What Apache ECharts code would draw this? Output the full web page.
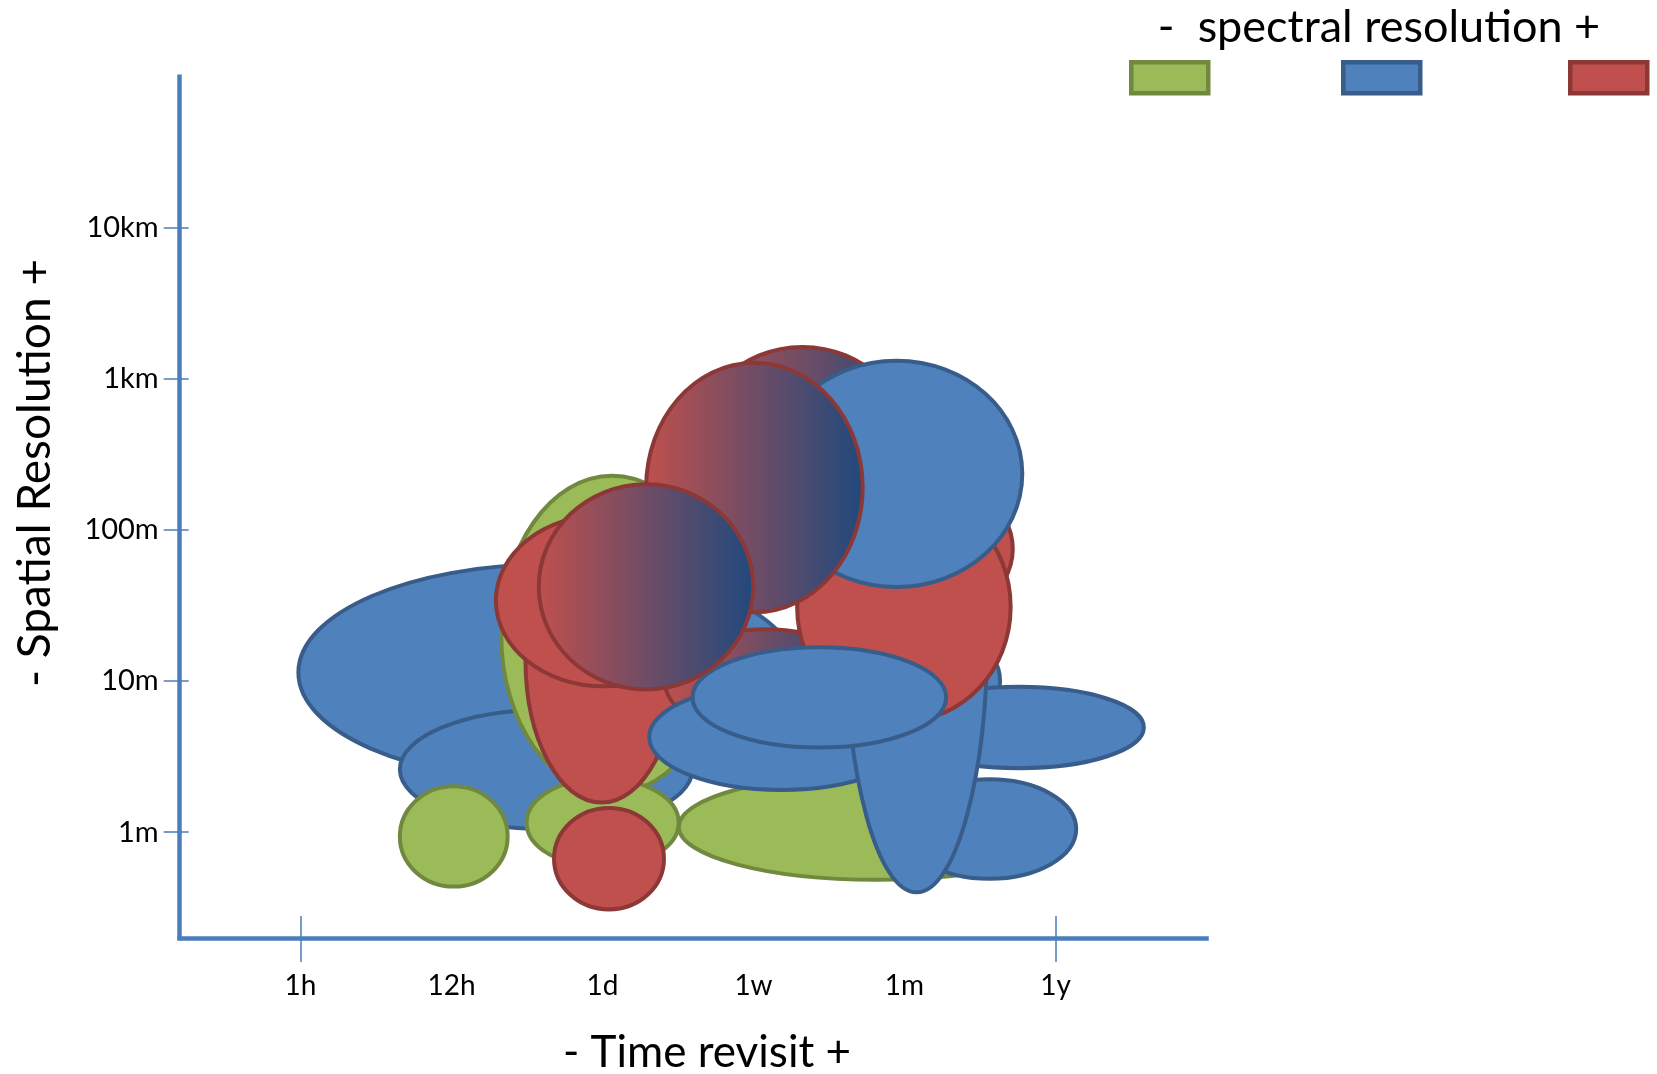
<!DOCTYPE html>
<html><head><meta charset="utf-8">
<script src="https://cdn.jsdelivr.net/npm/echarts@6/dist/echarts.min.js"></script>
<style>html,body{margin:0;padding:0;background:#fff;}#chart{width:1657px;height:1074px;}</style>
</head><body><div id="chart"></div>
<script>
// axis tick labels
const timeLabels = ['1h', '12h', '1d', '1w', '1m', '1y'];
const spatialLabels = ['1m', '10m', '100m', '1km', '10km'];

// each ellipse: [centre on time axis, centre in log10(metres), half width, half height, stacking order]
const greenEllipses = [
  [2.064, 1.309, 0.735, 1.050, 4],
  [2.001, 0.063, 0.504, 0.294, 5],
  [1.015, -0.028, 0.357, 0.332, 8],
  [3.814, 0.035, 1.309, 0.350, 9]
];
const blueEllipses = [
  [1.638, 1.057, 1.652, 0.714, 1],
  [3.989, 1.001, 0.644, 0.420, 2],
  [1.627, 0.416, 0.969, 0.395, 3],
  [3.184, 0.630, 0.875, 0.350, 11],
  [4.563, 0.021, 0.574, 0.329, 12],
  [4.759, 0.693, 0.826, 0.269, 13],
  [4.080, 1.316, 0.469, 1.714, 14],
  [3.436, 0.892, 0.840, 0.332, 18],
  [3.947, 2.372, 0.833, 0.749, 19]
];
const redEllipses = [
  [1.994, 1.141, 0.504, 0.945, 6],
  [2.043, -0.175, 0.364, 0.336, 7],
  [4.010, 1.875, 0.707, 0.525, 16],
  [3.996, 1.491, 0.707, 0.756, 17],
  [2.008, 1.533, 0.714, 0.567, 21]
];
const mixedEllipses = [
  [3.079, 0.994, 0.665, 0.350, 10],
  [3.324, 2.491, 0.735, 0.721, 15],
  [3.006, 2.281, 0.717, 0.826, 20],
  [2.288, 1.624, 0.710, 0.679, 22]
];

const AXIS_BLUE = '#4A7EBB';
const FONT = 'Lato';

function ellipseRenderer(makeFill, stroke) {
  return function (params, api) {
    const c = api.coord([api.value(0), api.value(1)]);
    const s = api.size([api.value(2), api.value(3)]);
    return {
      type: 'ellipse',
      z2: api.value(4),
      shape: { cx: c[0], cy: c[1], rx: s[0], ry: s[1] },
      style: { fill: makeFill(), stroke: stroke, lineWidth: 4 }
    };
  };
}
const solid = (c) => () => c;
const redToBlue = () => ({
  type: 'linear', x: 0, y: 0, x2: 1, y2: 0,
  colorStops: [{ offset: 0, color: '#C0504D' }, { offset: 1, color: '#1F497D' }]
});

function legendFor(name, left, fill, border) {
  return {
    left: left, top: 60, padding: 0, itemWidth: 77, itemHeight: 31, icon: 'rect',
    selectedMode: false, formatter: () => '',
    data: [{ name: name, itemStyle: { color: fill, borderColor: border, borderWidth: 4.5 } }]
  };
}

const chart = echarts.init(document.getElementById('chart'));
chart.setOption({
  animation: false,
  backgroundColor: '#fff',
  grid: { left: 179.7, right: 450.5, top: 76.7, bottom: 136, containLabel: false, outerBoundsMode: 'none' },
  legend: [
    legendFor('- spectral', 1129, '#9BBB59', '#71893F'),
    legendFor('mid spectral', 1341, '#4F81BD', '#385D8A'),
    legendFor('+ spectral', 1568, '#C0504D', '#8C3836')
  ],
  xAxis: [
    {
      type: 'value', min: -0.8, max: 6, position: 'bottom',
      axisLine: { show: true, onZero: false, lineStyle: { color: AXIS_BLUE, width: 4.5, cap: 'square' } },
      splitLine: { show: false },
      axisTick: { show: true, customValues: [0, 5], length: 24, lineStyle: { color: AXIS_BLUE, width: 1.5 } },
      axisLabel: { customValues: [0, 1, 2, 3, 4, 5], formatter: (v) => timeLabels[Math.round(v)],
        fontFamily: FONT, fontSize: 28, color: '#000', margin: 34 }
    },
    {
      type: 'value', min: -0.8, max: 6, position: 'bottom',
      axisLine: { show: false, onZero: false }, splitLine: { show: false },
      axisTick: { show: true, inside: true, customValues: [0, 5], length: 22, lineStyle: { color: AXIS_BLUE, width: 1.5 } },
      axisLabel: { show: false }
    }
  ],
  yAxis: [
    {
      type: 'value', min: -0.7, max: 5, position: 'left',
      axisLine: { show: true, onZero: false, lineStyle: { color: AXIS_BLUE, width: 4.5, cap: 'square' } },
      splitLine: { show: false },
      axisTick: { show: true, customValues: [0, 1, 2, 3, 4], length: 16, lineStyle: { color: AXIS_BLUE, width: 1.5 } },
      axisLabel: { customValues: [0, 1, 2, 3, 4], formatter: (v) => spatialLabels[Math.round(v)],
        fontFamily: FONT, fontSize: 29, color: '#000', margin: 21 }
    },
    {
      type: 'value', min: -0.7, max: 5, position: 'left',
      axisLine: { show: false, onZero: false }, splitLine: { show: false },
      axisTick: { show: true, inside: true, customValues: [0, 1, 2, 3, 4], length: 9, lineStyle: { color: AXIS_BLUE, width: 1.5 } },
      axisLabel: { show: false }
    }
  ],
  graphic: [
    { type: 'text', x: 707, y: 1053, silent: true,
      style: { text: '- Time revisit +', font: '44px Lato', fill: '#000', align: 'center', verticalAlign: 'middle', textAlign: 'center', textVerticalAlign: 'middle' } },
    { type: 'text', x: 35, y: 473, rotation: Math.PI / 2, silent: true,
      style: { text: '- Spatial Resolution +', font: '46px Lato', fill: '#000', align: 'center', verticalAlign: 'middle', textAlign: 'center', textVerticalAlign: 'middle' } },
    { type: 'text', x: 1379, y: 27, silent: true,
      style: { text: '-  spectral resolution +', font: '45px Lato', fill: '#000', align: 'center', verticalAlign: 'middle', textAlign: 'center', textVerticalAlign: 'middle' } }
  ],
  series: [
    { name: '- spectral', type: 'custom', silent: true, clip: false, itemStyle: { color: '#9BBB59' },
      renderItem: ellipseRenderer(solid('#9BBB59'), '#71893F'), data: greenEllipses },
    { name: 'mid spectral', type: 'custom', silent: true, clip: false, itemStyle: { color: '#4F81BD' },
      renderItem: ellipseRenderer(solid('#4F81BD'), '#385D8A'), data: blueEllipses },
    { name: '+ spectral', type: 'custom', silent: true, clip: false, itemStyle: { color: '#C0504D' },
      renderItem: ellipseRenderer(solid('#C0504D'), '#8C3836'), data: redEllipses },
    { name: 'mixed', type: 'custom', silent: true, clip: false,
      renderItem: ellipseRenderer(redToBlue, '#8C3836'), data: mixedEllipses }
  ]
});
</script></body></html>
